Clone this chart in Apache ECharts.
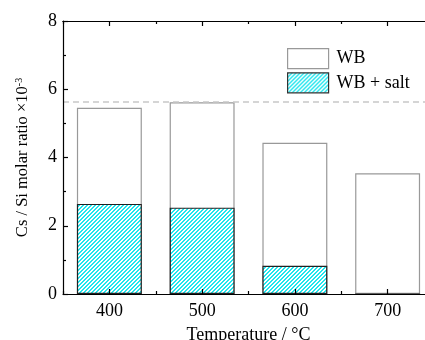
<!DOCTYPE html>
<html>
<head>
<meta charset="utf-8">
<script src="https://cdn.jsdelivr.net/npm/echarts@6/dist/echarts.min.js"></script>
<style>html,body{margin:0;padding:0;background:#fff;}#c{width:425px;height:340px;}</style>
</head>
<body>
<div id="c"></div>
<script>
const categories = ['400', '500', '600', '700'];
const wbValues = [5.46, 5.62, 4.43, 3.54];
const wbSaltValues = [2.64, 2.53, 0.83, 0];
const referenceLevel = [5.62];
const seriesNames = ['WB', 'WB + salt'];

function hatch() {
  const c = document.createElement('canvas');
  c.width = 4; c.height = 4;
  const g = c.getContext('2d');
  g.fillStyle = '#ffffff'; g.fillRect(0, 0, 4, 4);
  g.fillStyle = '#22e6ee';
  for (let i = 0; i < 4; i++) {
    g.fillRect(i, 3 - i, 1, 1);
    g.fillRect((i + 1) % 4, 3 - i, 1, 1);
  }
  return c;
}
const pattern = { image: hatch(), repeat: 'repeat' };
const font = 'Liberation Serif';

const chart = echarts.init(document.getElementById('c'), null, { renderer: 'canvas' });
const xBase = (pos, center, len, labels, name) => ({
  type: 'category', data: categories, position: pos, z: 10,
  axisLine: { show: !!labels || pos === 'top', lineStyle: { color: '#000', width: 1.2 } },
  axisTick: { show: true, inside: true, alignWithLabel: center, length: len, lineStyle: { color: '#000', width: 1.2 } },
  axisLabel: { show: !!labels, color: '#000', fontFamily: font, fontSize: 18, margin: 8 },
  splitLine: { show: false },
  name: name || '', nameLocation: 'middle', nameGap: 32,
  nameTextStyle: { color: '#000', fontFamily: font, fontSize: 18 }
});
chart.setOption({
  animation: false,
  grid: { left: 63, top: 21, width: 371, height: 273, containLabel: false, outerBoundsMode: 'none' },
  legend: {
    data: [
      { name: seriesNames[0], itemStyle: { color: '#fff', borderColor: '#999', borderWidth: 1.2 } },
      { name: seriesNames[1], itemStyle: { color: pattern, borderColor: '#333', borderWidth: 1.2 } }
    ],
    icon: 'rect', orient: 'vertical', left: 282, top: 43,
    itemWidth: 41, itemHeight: 20, itemGap: 3,
    textStyle: { color: '#000', fontFamily: font, fontSize: 18, padding: [0, 0, 0, 3] },
    selectedMode: false
  },
  xAxis: [
    xBase('bottom', true, 5, true, 'Temperature / °C'),
    xBase('bottom', false, 3, false),
    xBase('top', true, 5, false),
    xBase('top', false, 3, false)
  ],
  yAxis: {
    type: 'value', min: 0, max: 8, interval: 2, z: 10,
    axisLine: { show: true, lineStyle: { color: '#000', width: 1.2 } },
    axisTick: { show: true, inside: true, length: 5, lineStyle: { color: '#000', width: 1.2 } },
    minorTick: { show: true, splitNumber: 2, length: 3, lineStyle: { color: '#000', width: 1.2 } },
    axisLabel: { color: '#000', fontFamily: font, fontSize: 18, margin: 6 },
    splitLine: { show: false },
    name: '{a|Cs / Si molar ratio ×10}{s|-3}', nameLocation: 'middle', nameGap: 31,
    nameTextStyle: {
      color: '#000', fontFamily: font, fontSize: 16.5,
      rich: { a: { fontFamily: font, fontSize: 16.5, color: '#000' }, s: { fontFamily: font, fontSize: 10, color: '#000', verticalAlign: 'top', padding: [0, 0, 8, 0] } }
    }
  },
  series: [
    {
      name: seriesNames[0], type: 'bar', data: wbValues, barWidth: '70%', barGap: '-100%',
      itemStyle: { color: '#fff', borderColor: '#999', borderWidth: 1.2 },
      markLine: {
        silent: true, symbol: 'none', label: { show: false },
        lineStyle: { color: '#c8c8c8', type: [6, 4], width: 1.5 },
        data: [{ yAxis: referenceLevel[0] }]
      }
    },
    {
      name: seriesNames[1], type: 'bar', data: wbSaltValues, barWidth: '70%', barGap: '-100%',
      itemStyle: { color: pattern, borderColor: '#222', borderWidth: 1.2 }
    }
  ]
});
</script>
</body>
</html>
